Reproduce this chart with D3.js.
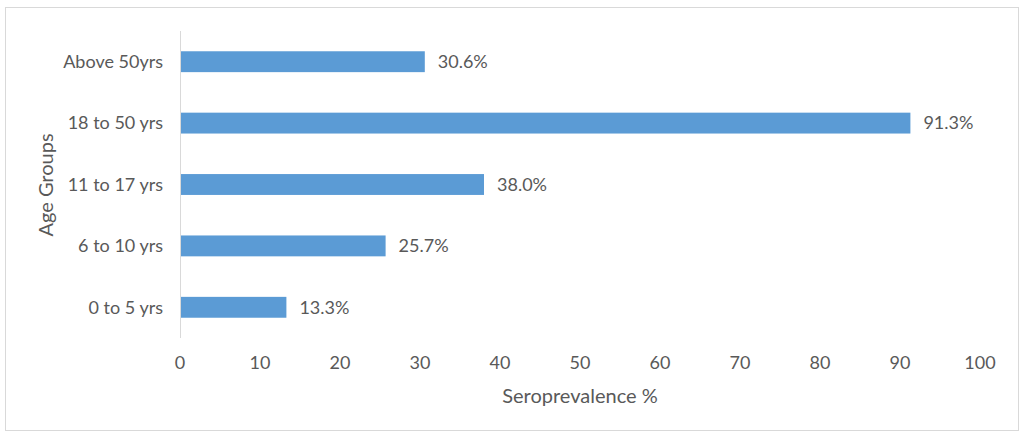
<!DOCTYPE html>
<html><head><meta charset="utf-8">
<script src="https://cdn.jsdelivr.net/npm/d3@7"></script>
<style>body{margin:0;background:#fff;}svg{display:block;font-family:Lato,sans-serif;}</style>
</head><body><svg id="c" width="1024" height="438"></svg>
<script>
const categories = ["Above 50yrs","18 to 50 yrs","11 to 17 yrs","6 to 10 yrs","0 to 5 yrs"];
const values = [30.6, 91.3, 38.0, 25.7, 13.3];
const xTicks = [0,10,20,30,40,50,60,70,80,90,100];
const xTitle = "Seroprevalence %";
const yTitle = "Age Groups";

const svg = d3.select("#c");
const textColor = "#595959";
const fs = 18, tfs = 20;
svg.append("rect").attr("x",5.5).attr("y",7.5).attr("width",1013).attr("height",423)
  .attr("fill","#fff").attr("stroke","#d9d9d9");

const x = d3.scaleLinear().domain([0,100]).range([180,980]);
const y = d3.scaleBand().domain(categories).range([31,338]).paddingInner(0.66).paddingOuter(0.33);

svg.selectAll("rect.bar").data(values).join("rect").attr("class","bar")
  .attr("x",x(0)).attr("y",(d,i)=>y(categories[i]))
  .attr("width",d=>x(d)-x(0)).attr("height",y.bandwidth()).attr("fill","#5B9BD5");

svg.append("line").attr("x1",180.5).attr("x2",180.5).attr("y1",31).attr("y2",338)
  .attr("stroke","#d9d9d9").attr("stroke-width",1);

svg.selectAll("text.val").data(values).join("text").attr("class","val")
  .attr("x",d=>x(d)+13).attr("y",(d,i)=>y(categories[i])+y.bandwidth()/2)
  .attr("dy","0.35em").attr("fill",textColor).attr("font-size",fs)
  .text(d=>d.toFixed(1)+"%");

svg.selectAll("text.cat").data(categories).join("text").attr("class","cat")
  .attr("x",163).attr("y",d=>y(d)+y.bandwidth()/2).attr("dy","0.35em")
  .attr("text-anchor","end").attr("fill",textColor).attr("font-size",fs).text(d=>d);

svg.selectAll("text.xt").data(xTicks).join("text").attr("class","xt")
  .attr("x",d=>x(d)).attr("y",363).attr("dy","0.35em").attr("text-anchor","middle")
  .attr("fill",textColor).attr("font-size",fs).text(d=>d);

svg.append("text").attr("x",580).attr("y",396).attr("dy","0.35em").attr("text-anchor","middle")
  .attr("fill",textColor).attr("font-size",tfs).text(xTitle);

svg.append("text").attr("transform","translate(46,185) rotate(-90)").attr("dy","0.35em")
  .attr("text-anchor","middle").attr("fill",textColor).attr("font-size",tfs).text(yTitle);
</script></body></html>
